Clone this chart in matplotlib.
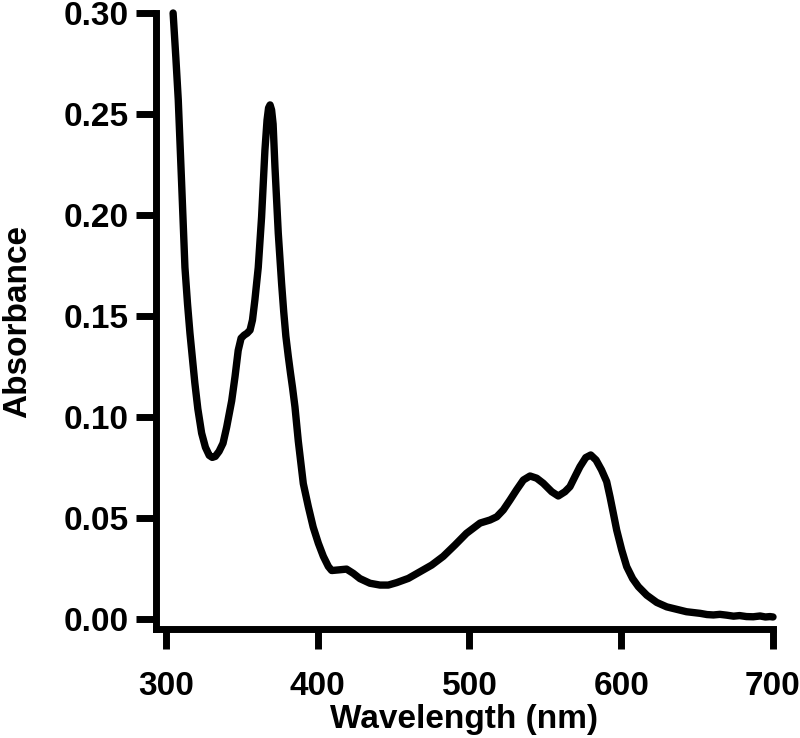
import matplotlib
matplotlib.use("Agg")
import matplotlib.pyplot as plt
from matplotlib.ticker import FormatStrFormatter

wavelength = [304.7, 306.5, 308.1, 310.3, 312.5, 314.2, 315.8, 319.0, 321.0, 323.5,
              326.0, 328.5, 330.5, 332.5, 335.0, 337.6, 340.0, 343.3, 345.5, 347.6,
              349.5, 351.5, 353.5, 355.4, 357.0, 358.6, 360.8, 363.0, 365.2, 366.6,
              367.6, 368.6, 369.6, 370.6, 371.8, 374.0, 376.2, 377.6, 379.0, 380.6,
              382.0, 383.4, 385.0, 387.2, 390.5, 393.8, 397.0, 400.4, 403.7, 407.0,
              409.2, 413.6, 419.0, 423.4, 427.8, 434.4, 441.0, 446.5, 452.0, 459.7,
              467.4, 475.1, 482.7, 490.4, 498.0, 507.0, 513.5, 518.0, 522.3, 526.7,
              531.0, 535.5, 539.9, 544.3, 548.6, 554.2, 558.5, 562.9, 566.2, 569.5,
              572.8, 576.6, 579.9, 583.4, 587.0, 590.4, 592.6, 594.8, 597.0, 600.3,
              603.6, 607.5, 611.3, 616.8, 623.4, 630.0, 636.5, 643.0, 647.5, 652.0,
              656.5, 660.7, 665.0, 669.5, 674.0, 678.0, 682.5, 687.0, 691.5, 695.0,
              698.0, 700.0]
absorbance = [0.300, 0.278, 0.257, 0.216, 0.174, 0.156, 0.1415, 0.117, 0.104, 0.092,
              0.085, 0.081, 0.0800, 0.0805, 0.0830, 0.087, 0.095, 0.108, 0.120, 0.133,
              0.139, 0.1405, 0.1415, 0.143, 0.148, 0.158, 0.174, 0.199, 0.232, 0.247,
              0.2530, 0.2545, 0.2520, 0.245, 0.224, 0.191, 0.166, 0.152, 0.140, 0.130,
              0.122, 0.1145, 0.105, 0.088, 0.067, 0.0556, 0.0455, 0.0375, 0.031, 0.026,
              0.0240, 0.0243, 0.0247, 0.0226, 0.020, 0.0177, 0.0168, 0.0168, 0.018, 0.0201,
              0.0234, 0.0267, 0.031, 0.0366, 0.0424, 0.0475, 0.049, 0.0506, 0.054, 0.0589,
              0.0639, 0.0688, 0.0708, 0.0697, 0.0672, 0.063, 0.0609, 0.063, 0.0655, 0.0705,
              0.0754, 0.0799, 0.0812, 0.0787, 0.0738, 0.068, 0.0605, 0.0523, 0.044, 0.0342,
              0.0259, 0.0200, 0.0160, 0.0118, 0.0082, 0.0060, 0.0048, 0.0036, 0.0032, 0.0028,
              0.0022, 0.0020, 0.0023, 0.0019, 0.0014, 0.0017, 0.0012, 0.0011, 0.0015, 0.0010,
              0.0012, 0.0010]

x_ticks = [300, 400, 500, 600, 700]
y_ticks = [0.00, 0.05, 0.10, 0.15, 0.20, 0.25, 0.30]

plt.rcParams['font.family'] = ['Liberation Sans', 'DejaVu Sans']
plt.rcParams['font.weight'] = 'bold'

fig = plt.figure(figsize=(8.0, 7.38), dpi=100)
ax = fig.add_axes([155.5 / 800, 109 / 738, (773 - 155.5) / 800, (629 - 13) / 738])

ax.plot(wavelength, absorbance, color='black', lw=5.3, solid_capstyle='round',
        solid_joinstyle='round', clip_on=False)

ax.set_xlim(293.1, 700)
ax.set_ylim(-0.00495, 0.30)
ax.set_xticks(x_ticks)
ax.set_yticks(y_ticks)
ax.yaxis.set_major_formatter(FormatStrFormatter('%.2f'))

for s in ['top', 'right']:
    ax.spines[s].set_visible(False)
for s in ['left', 'bottom']:
    ax.spines[s].set_linewidth(5.0)
    ax.spines[s].set_capstyle('projecting')

ax.tick_params(axis='both', direction='out', length=14.5, width=5.0,
               labelsize=24, color='black')
ax.tick_params(axis='x', pad=16)
ax.tick_params(axis='y', pad=5)
for lab in ax.get_xticklabels() + ax.get_yticklabels():
    lab.set_fontweight('bold')

ax.set_xlabel('Wavelength (nm)', fontsize=24, fontweight='bold', labelpad=1)
ax.set_ylabel('Absorbance', fontsize=24, fontweight='bold', labelpad=22)

fig.savefig('out.png', dpi=100)
